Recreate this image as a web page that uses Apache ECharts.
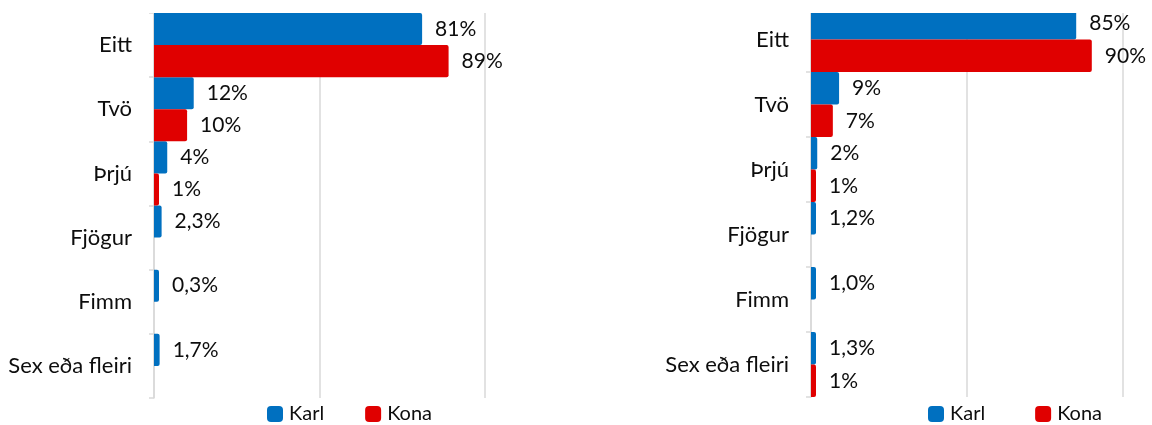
<!DOCTYPE html>
<html>
<head>
<meta charset="utf-8">
<script src="https://cdn.jsdelivr.net/npm/echarts@6/dist/echarts.min.js"></script>
<style>
  html, body { margin: 0; padding: 0; background: #fff; }
  #chart { width: 1152px; height: 425px; }
</style>
</head>
<body>
<div id="chart"></div>
<script>
// Number of children per household, men (Karl) vs. women (Kona), two groups.
const categories = ['Eitt', 'Tvö', 'Þrjú', 'Fjögur', 'Fimm', 'Sex eða fleiri'];
const seriesNames = ['Karl', 'Kona'];

// Values in percent, written as they are labelled (decimal point shown as comma).
const leftKarl  = ['81', '12', '4', '2.3', '0.3', '1.7'];
const leftKona  = ['89', '10', '1', null, null, null];
const rightKarl = ['85', '9', '2', '1.2', '1.0', '1.3'];
const rightKona = ['90', '7', '1', null, null, '1'];

const valueTicks = { min: 0, max: 100, interval: 50 };

const BLUE = '#0070C0';
const RED = '#E00000';
const GRID_GRAY = '#D9D9D9';
const TEXT = '#0d0d0d';
const FONT = 'Lato, "Open Sans", sans-serif';

function toData(arr) {
  return arr.map(v => v === null ? null : {
    value: parseFloat(v),
    label: { formatter: v.replace('.', ',') + '%' }
  });
}

function barSeries(name, values, idx, color) {
  return {
    type: 'bar',
    name: name,
    xAxisIndex: idx,
    yAxisIndex: idx,
    data: toData(values),
    barGap: '0%',
    barCategoryGap: '0%',
    barMinHeight: 5,
    itemStyle: { color: color, borderRadius: [0, 2, 2, 0] },
    label: {
      show: true,
      position: 'right',
      distance: 13,
      fontSize: 21,
      fontFamily: FONT,
      color: TEXT
    },
    emphasis: { disabled: true }
  };
}

function valueAxis(idx) {
  return {
    type: 'value',
    gridIndex: idx,
    min: valueTicks.min,
    max: valueTicks.max,
    interval: valueTicks.interval,
    axisLabel: { show: false },
    axisLine: { show: false },
    axisTick: { show: false },
    splitLine: { show: true, lineStyle: { color: GRID_GRAY, width: 1.5 } }
  };
}

function categoryAxis(idx) {
  return {
    type: 'category',
    gridIndex: idx,
    data: categories,
    inverse: true,
    axisLine: { show: true, lineStyle: { color: GRID_GRAY, width: 1.5 } },
    axisTick: { show: true, length: 5, inside: false, lineStyle: { color: GRID_GRAY, width: 1.5 } },
    axisLabel: { fontSize: 22, fontFamily: FONT, color: TEXT, margin: 22 }
  };
}

function legend(left, gap) {
  return {
    data: seriesNames,
    left: left,
    top: 404,
    padding: 0,
    itemWidth: 16,
    itemHeight: 16,
    icon: 'roundRect',
    itemGap: gap,
    selectedMode: false,
    textStyle: { fontSize: 20, fontFamily: FONT, color: TEXT, lineHeight: 18, padding: [0, 0, 0, 1] }
  };
}

const chart = echarts.init(document.getElementById('chart'), null, { renderer: 'canvas' });
chart.setOption({
  animation: false,
  backgroundColor: '#fff',
  grid: [
    { left: 154, top: 13, width: 331, height: 385 },
    { left: 811, top: 7, width: 312, height: 390 }
  ],
  xAxis: [valueAxis(0), valueAxis(1)],
  yAxis: [categoryAxis(0), categoryAxis(1)],
  legend: [legend(267, 41), legend(928, 50)],
  series: [
    barSeries('Karl', leftKarl, 0, BLUE),
    barSeries('Kona', leftKona, 0, RED),
    barSeries('Karl', rightKarl, 1, BLUE),
    barSeries('Kona', rightKona, 1, RED)
  ],
  graphic: [
    // top margin band trims the plot areas along one common edge
    { type: 'rect', z: 100, shape: { x: 0, y: 0, width: 1152, height: 13 }, style: { fill: '#fff' } }
  ]
});
</script>
</body>
</html>
